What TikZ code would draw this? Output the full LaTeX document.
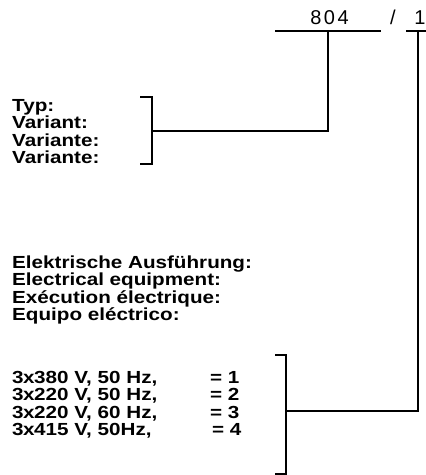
\documentclass[tikz,border=0pt]{standalone}
\usepackage{fontspec}
\setmainfont[FakeStretch=1.18]{Liberation Sans}
\newfontfamily\codefont{Liberation Sans}
\begin{document}
\begin{tikzpicture}[x=1pt,y=-1pt,
  lbl/.style={anchor=base west, inner sep=0pt, font=\fontsize{17.5}{19}\selectfont\bfseries},
  code/.style={anchor=base, inner sep=0pt, font=\codefont\fontsize{20}{21}\selectfont},
  wire/.style={line width=2.8pt, line join=miter}]
\useasboundingbox (0,0) rectangle (426,475);
% code at top
\node[code] (c804) at (329.5,24) {8\kern2.5pt0\kern2.5pt4};
\node[code] (slash) at (393,24) {/};
\node[code] (c1) at (420,24) {1};
\coordinate (hA1) at (275,31); \coordinate (hA2) at (381,31); \coordinate (jA) at (328,31);
\coordinate (hB1) at (406,31); \coordinate (hB2) at (427,31); \coordinate (jB) at (418,31);
\draw[wire] (hA1) -- (hA2);
\draw[wire] (hB1) -- (hB2);
% type block
\node[lbl] (typ) at (12,111) {Typ:};
\node[lbl] (var1) at (12,128.5) {Variant:};
\node[lbl] (var2) at (12,146) {Variante:};
\node[lbl] (var3) at (12,163.5) {Variante:};
\coordinate (b1t) at (140,97); \coordinate (b1b) at (140,164);
\coordinate (b1m) at (152,131); \coordinate (cA) at (328,131);
\draw[wire] (b1t) -| (b1m) |- (b1b);
\draw[wire] (b1m) -- (cA) -- (jA);
% electrical block
\node[lbl] (el1) at (12,268) {Elektrische Ausführung:};
\node[lbl] (el2) at (12,285.5) {Electrical equipment:};
\node[lbl] (el3) at (12,303) {Exécution électrique:};
\node[lbl] (el4) at (12,320.5) {Equipo eléctrico:};
% voltages
\node[lbl] (v1) at (12,383) {3\kern-0.5pt x\kern-0.5pt 380 V, 50 Hz,};
\node[lbl] (v2) at (12,400.5) {3\kern-0.5pt x\kern-0.5pt 220 V, 50 Hz,};
\node[lbl] (v3) at (12,418) {3\kern-0.5pt x\kern-0.5pt 220 V, 60 Hz,};
\node[lbl] (v4) at (12,435.5) {3\kern-0.5pt x\kern-0.5pt 415 V, 50Hz,};
\node[lbl] (n1) at (210,383) {= 1};
\node[lbl] (n2) at (210,400.5) {= 2};
\node[lbl] (n3) at (210,418) {= 3};
\node[lbl] (n4) at (212,435.5) {= 4};
\coordinate (b2t) at (275,355); \coordinate (b2b) at (275,474);
\coordinate (b2m) at (286,411); \coordinate (cB) at (418,411);
\draw[wire] (b2t) -| (b2m) |- (b2b);
\draw[wire] (b2m) -- (cB) -- (jB);
\end{tikzpicture}
\end{document}
